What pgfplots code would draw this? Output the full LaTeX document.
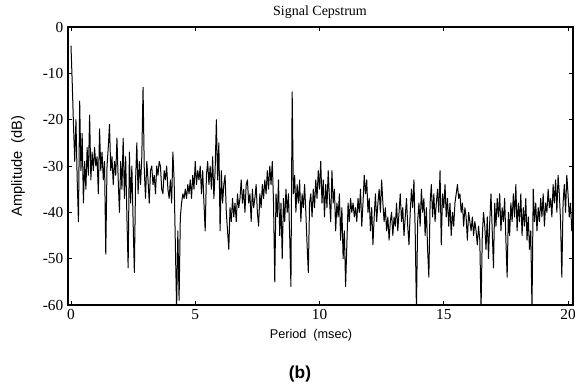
\documentclass[border=0pt]{standalone}
\usepackage{pgfplots}
\pgfplotsset{compat=1.18}
\usepackage{fontspec}
\setmainfont{Liberation Serif}
\setsansfont{Liberation Sans}
\begin{document}
\begin{tikzpicture}
\path[use as bounding box] (-51pt,-63pt) rectangle (380.25pt,228.75pt);
\begin{axis}[
  at={(0,0)}, anchor=south west,
  scale only axis, width=378.75pt, height=208.5pt,
  xmin=-0.12, xmax=20.2, ymin=-60, ymax=0,
  xtick={0,5,10,15,20}, ytick={-60,-50,-40,-30,-20,-10,0},
  tick align=inside, tick pos=both,
  major tick length=3pt,
  tick style={black, line width=0.7pt},
  axis line style={black, line width=0.9pt},
  ticklabel style={font=\fontsize{11.5}{13}\selectfont},
  /pgf/number format/assume math mode=true,
  clip=true,
]
\addplot[black, line width=0.75pt, line join=round] table {
x y
0.00 -4
0.05 -12
0.10 -21
0.15 -29
0.20 -20
0.25 -33
0.30 -42
0.35 -16
0.40 -31
0.45 -23
0.50 -38
0.55 -29
0.60 -35
0.65 -26
0.70 -32
0.75 -19
0.80 -33
0.85 -27
0.90 -31
0.95 -26
1.00 -30
1.05 -28
1.10 -36
1.15 -22
1.20 -31
1.25 -27
1.30 -33
1.35 -29
1.40 -49
1.45 -30
1.50 -26
1.55 -21
1.60 -31
1.65 -28
1.70 -34
1.75 -29
1.80 -32
1.85 -24
1.90 -33
1.95 -40
2.00 -29
2.05 -35
2.10 -24
2.15 -37
2.20 -28
2.25 -41
2.30 -52
2.35 -27
2.40 -38
2.45 -30
2.50 -42
2.55 -53
2.60 -33
2.65 -25
2.70 -36
2.75 -29
2.80 -34
2.85 -28
2.90 -13
2.95 -31
3.00 -37
3.05 -29
3.10 -33
3.15 -38
3.20 -31
3.25 -30
3.30 -34
3.35 -32
3.40 -36
3.45 -30
3.50 -32
3.55 -29
3.60 -30
3.65 -35
3.70 -36
3.75 -31
3.80 -33
3.85 -30
3.90 -35
3.95 -37
4.00 -33
4.05 -38
4.10 -27
4.15 -33
4.20 -47
4.25 -61
4.30 -44
4.35 -59
4.40 -41
4.45 -38
4.50 -36
4.55 -37
4.60 -35
4.65 -37
4.70 -34
4.75 -36
4.80 -33
4.85 -37
4.90 -32
4.95 -35
5.00 -29
5.05 -34
5.10 -31
5.15 -33
5.20 -30
5.25 -36
5.30 -31
5.35 -38
5.40 -44
5.45 -32
5.50 -29
5.55 -34
5.60 -30
5.65 -35
5.70 -28
5.75 -37
5.80 -31
5.85 -20
5.90 -33
5.95 -25
6.00 -44
6.05 -31
6.10 -38
6.15 -34
6.20 -32
6.25 -40
6.30 -44
6.35 -48
6.40 -39
6.45 -42
6.50 -37
6.55 -41
6.60 -38
6.65 -42
6.70 -36
6.75 -39
6.80 -37
6.85 -33
6.90 -38
6.95 -35
7.00 -40
7.05 -34
7.10 -33
7.15 -38
7.20 -36
7.25 -42
7.30 -35
7.35 -39
7.40 -37
7.45 -34
7.50 -40
7.55 -43
7.60 -36
7.65 -39
7.70 -34
7.75 -37
7.80 -33
7.85 -36
7.90 -31
7.95 -35
8.00 -30
8.05 -34
8.10 -29
8.15 -38
8.20 -55
8.25 -36
8.30 -41
8.35 -33
8.40 -45
8.45 -38
8.50 -50
8.55 -37
8.60 -42
8.65 -35
8.70 -40
8.75 -36
8.80 -45
8.85 -56
8.90 -14
8.95 -36
9.00 -32
9.05 -40
9.10 -34
9.15 -38
9.20 -33
9.25 -42
9.30 -36
9.35 -39
9.40 -34
9.45 -40
9.50 -47
9.55 -53
9.60 -38
9.65 -36
9.70 -41
9.75 -35
9.80 -39
9.85 -33
9.90 -37
9.95 -31
10.00 -35
10.05 -29
10.10 -38
10.15 -33
10.20 -41
10.25 -34
10.30 -39
10.35 -31
10.40 -37
10.45 -42
10.50 -31
10.55 -38
10.60 -35
10.65 -44
10.70 -38
10.75 -41
10.80 -36
10.85 -46
10.90 -39
10.95 -50
11.00 -44
11.05 -56
11.10 -47
11.15 -38
11.20 -42
11.25 -37
11.30 -40
11.35 -38
11.40 -41
11.45 -39
11.50 -42
11.55 -37
11.60 -40
11.65 -35
11.70 -43
11.75 -38
11.80 -32
11.85 -36
11.90 -33
11.95 -40
12.00 -37
12.05 -44
12.10 -39
12.15 -47
12.20 -41
12.25 -36
12.30 -42
12.35 -38
12.40 -35
12.45 -40
12.50 -33
12.55 -38
12.60 -42
12.65 -39
12.70 -44
12.75 -41
12.80 -46
12.85 -42
12.90 -40
12.95 -45
13.00 -41
13.05 -43
13.10 -38
13.15 -44
13.20 -40
13.25 -36
13.30 -42
13.35 -39
13.40 -45
13.45 -41
13.50 -37
13.55 -43
13.60 -47
13.65 -40
13.70 -35
13.75 -39
13.80 -33
13.85 -44
13.90 -61
13.95 -42
14.00 -38
14.05 -43
14.10 -35
14.15 -40
14.20 -37
14.25 -45
14.30 -39
14.35 -48
14.40 -54
14.45 -38
14.50 -34
14.55 -41
14.60 -36
14.65 -42
14.70 -38
14.75 -35
14.80 -40
14.85 -31
14.90 -47
14.95 -36
15.00 -39
15.05 -34
15.10 -41
15.15 -37
15.20 -43
15.25 -38
15.30 -45
15.35 -40
15.40 -43
15.45 -38
15.50 -36
15.55 -34
15.60 -37
15.65 -36
15.70 -40
15.75 -38
15.80 -43
15.85 -39
15.90 -41
15.95 -46
16.00 -40
16.05 -42
16.10 -44
16.15 -41
16.20 -45
16.25 -42
16.30 -44
16.35 -47
16.40 -43
16.45 -46
16.50 -61
16.55 -45
16.60 -40
16.65 -43
16.70 -48
16.75 -41
16.80 -50
16.85 -42
16.90 -36
16.95 -44
17.00 -52
17.05 -38
17.10 -43
17.15 -37
17.20 -41
17.25 -36
17.30 -44
17.35 -39
17.40 -42
17.45 -37
17.50 -46
17.55 -54
17.60 -40
17.65 -45
17.70 -38
17.75 -42
17.80 -36
17.85 -41
17.90 -34
17.95 -44
18.00 -38
18.05 -42
18.10 -36
18.15 -45
18.20 -39
18.25 -43
18.30 -37
18.35 -46
18.40 -41
18.45 -48
18.50 -44
18.55 -61
18.60 -35
18.65 -42
18.70 -38
18.75 -44
18.80 -39
18.85 -42
18.90 -37
18.95 -41
19.00 -36
19.05 -43
19.10 -38
19.15 -40
19.20 -35
19.25 -39
19.30 -37
19.35 -41
19.40 -34
19.45 -38
19.50 -33
19.55 -40
19.60 -32
19.65 -36
19.70 -42
19.75 -54
19.80 -38
19.85 -34
19.90 -40
19.95 -32
20.00 -36
20.05 -41
20.10 -38
20.15 -44
20.20 -42
};
\end{axis}
\node[font=\fontsize{10.5}{12}\selectfont] at (189pt,219.75pt) {Signal Cepstrum};
\node[font=\sffamily\fontsize{9.5}{11}\selectfont] at (182.25pt,-23pt) {Period\ \ (msec)};
\node[font=\sffamily\fontsize{11}{13}\selectfont, rotate=90] at (-37.5pt,104.25pt) {Amplitude\ \ (dB)};
\node[font=\sffamily\bfseries\fontsize{13}{15}\selectfont] at (174pt,-51.75pt) {(b)};
\end{tikzpicture}
\end{document}
